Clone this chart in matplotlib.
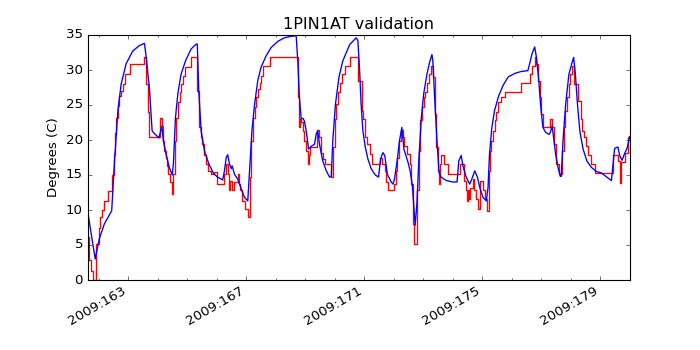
import matplotlib
matplotlib.use("Agg")
import matplotlib.pyplot as plt
from matplotlib.ticker import FixedLocator, MultipleLocator, FuncFormatter

plt.style.use("classic")

# model (blue) - day of year 2009, degrees C
model_days = [
    161.63, 161.88, 162.02, 162.19, 162.44, 162.53, 162.65, 162.76, 162.93, 163.15,
    163.38, 163.55, 163.61, 163.72, 163.81, 163.89, 164.04, 164.14, 164.19, 164.28,
    164.39, 164.49, 164.53, 164.60, 164.68, 164.79, 164.94, 165.13, 165.30, 165.34,
    165.39, 165.47, 165.58, 165.73, 165.89, 166.03, 166.20, 166.26, 166.32, 166.37,
    166.43, 166.49, 166.52, 166.60, 166.71, 166.83, 166.94, 167.05, 167.11, 167.19,
    167.28, 167.39, 167.50, 167.67, 167.84, 168.07, 168.29, 168.50, 168.69, 168.75,
    168.80, 168.86, 168.92, 168.97, 169.03, 169.11, 169.20, 169.31, 169.37, 169.42,
    169.48, 169.59, 169.71, 169.82, 169.88, 169.93, 170.02, 170.14, 170.27, 170.39,
    170.50, 170.72, 170.78, 170.84, 170.89, 170.95, 171.03, 171.12, 171.23, 171.37,
    171.48, 171.55, 171.63, 171.69, 171.78, 171.91, 171.97, 172.02, 172.11, 172.19,
    172.27, 172.34, 172.48, 172.55, 172.62, 172.67, 172.72, 172.78, 172.85, 172.93,
    173.01, 173.12, 173.21, 173.29, 173.32, 173.38, 173.46, 173.53, 173.60, 173.78,
    174.00, 174.14, 174.20, 174.28, 174.34, 174.45, 174.57, 174.64, 174.74, 174.83,
    174.91, 175.02, 175.13, 175.19, 175.24, 175.32, 175.41, 175.55, 175.70, 175.87,
    176.09, 176.32, 176.54, 176.60, 176.68, 176.77, 176.83, 176.91, 176.97, 177.05,
    177.14, 177.26, 177.30, 177.36, 177.41, 177.48, 177.56, 177.64, 177.67, 177.73,
    177.82, 177.93, 178.04, 178.09, 178.15, 178.22, 178.30, 178.41, 178.54, 178.69,
    178.86, 179.03, 179.37, 179.48, 179.59, 179.65, 179.73, 179.82, 179.90, 179.99,
]
model_temps = [
    9.7, 3.0, 5.9, 8.0, 9.9, 16.6, 24.2, 28.0, 30.9, 32.7,
    33.5, 33.8, 31.8, 27.3, 21.3, 20.9, 20.3, 22.0, 19.9, 18.0,
    16.1, 15.0, 16.6, 23.2, 26.6, 29.4, 31.3, 33.0, 33.7, 33.7,
    27.0, 21.3, 18.5, 16.6, 15.2, 14.7, 14.3, 15.6, 17.5, 17.9,
    16.6, 15.9, 16.3, 15.1, 14.4, 13.0, 11.8, 11.3, 15.6, 21.3,
    25.1, 28.5, 30.4, 32.0, 33.2, 34.1, 34.6, 34.8, 34.9, 30.9,
    26.1, 23.0, 23.1, 22.7, 21.3, 18.7, 19.1, 19.4, 20.9, 21.3,
    19.4, 17.0, 15.6, 14.7, 14.8, 19.9, 25.1, 29.0, 31.3, 32.5,
    33.6, 34.6, 34.2, 29.9, 25.1, 21.3, 19.0, 17.3, 15.9, 15.0,
    14.7, 17.3, 18.2, 17.8, 15.1, 14.0, 13.7, 14.4, 17.0, 19.9,
    21.8, 18.7, 16.8, 15.6, 13.7, 10.9, 7.8, 10.9, 17.5, 23.2,
    26.6, 29.4, 31.1, 32.2, 31.3, 26.1, 19.9, 15.4, 14.7, 14.2,
    14.0, 14.0, 17.0, 17.8, 16.3, 14.7, 13.7, 14.4, 15.6, 14.7,
    13.2, 11.8, 11.3, 13.2, 18.0, 21.8, 24.2, 26.3, 27.8, 29.0,
    29.5, 29.8, 29.9, 30.9, 32.3, 33.3, 31.8, 28.5, 25.0, 21.8,
    21.1, 20.8, 21.1, 22.0, 20.4, 18.0, 16.1, 14.8, 14.8, 19.9,
    25.1, 29.4, 31.1, 31.8, 29.4, 25.1, 21.3, 18.7, 17.0, 16.1,
    15.5, 15.3, 14.2, 18.8, 19.0, 17.8, 17.1, 18.1, 18.8, 20.5,
]

# telemetry (red), stepped
tlm_days = [
    161.62, 161.68, 161.74, 161.80, 161.91, 162.02, 162.06, 162.11, 162.19, 162.33,
    162.46, 162.51, 162.55, 162.59, 162.65, 162.70, 162.76, 162.81, 162.89, 163.06,
    163.55, 163.61, 163.67, 163.72, 164.08, 164.14, 164.17, 164.22, 164.28, 164.30,
    164.36, 164.42, 164.48, 164.53, 164.57, 164.62, 164.68, 164.74, 164.79, 164.85,
    164.94, 165.13, 165.34, 165.39, 165.45, 165.51, 165.56, 165.62, 165.70, 165.81,
    165.92, 166.01, 166.26, 166.32, 166.37, 166.43, 166.46, 166.51, 166.57, 166.71,
    166.75, 166.80, 166.85, 166.94, 167.05, 167.11, 167.17, 167.22, 167.28, 167.33,
    167.39, 167.45, 167.50, 167.56, 167.82, 168.75, 168.78, 168.83, 168.87, 168.92,
    168.97, 169.03, 169.09, 169.12, 169.16, 169.21, 169.39, 169.48, 169.54, 169.59,
    169.67, 169.88, 169.93, 169.99, 170.05, 170.10, 170.18, 170.25, 170.33, 170.50,
    170.80, 170.84, 170.92, 170.97, 171.03, 171.10, 171.18, 171.26, 171.52, 171.59,
    171.69, 171.74, 171.80, 172.02, 172.06, 172.11, 172.17, 172.23, 172.31, 172.36,
    172.44, 172.53, 172.59, 172.64, 172.68, 172.76, 172.80, 172.84, 172.89, 172.96,
    173.01, 173.06, 173.12, 173.18, 173.27, 173.32, 173.38, 173.44, 173.49, 173.53,
    173.55, 173.61, 173.70, 173.85, 174.23, 174.36, 174.43, 174.48, 174.51, 174.54,
    174.59, 174.68, 174.71, 174.77, 174.85, 174.91, 175.02, 175.10, 175.17, 175.21,
    175.26, 175.30, 175.36, 175.41, 175.47, 175.53, 175.62, 175.75, 176.32, 176.60,
    176.68, 176.77, 176.83, 176.88, 176.94, 177.00, 177.05, 177.30, 177.36, 177.41,
    177.50, 177.59, 177.71, 177.75, 177.80, 177.87, 177.93, 177.98, 178.02, 178.10,
    178.24, 178.35, 178.39, 178.44, 178.50, 178.58, 178.69, 178.80, 179.42, 179.58,
    179.65, 179.71, 179.82, 179.93, 180.00,
]
tlm_temps = [
    6.1, 2.8, 1.3, 0.0, 5.1, 7.5, 9.0, 10.0, 11.3, 12.7,
    15.0, 18.0, 21.0, 23.2, 24.9, 26.3, 27.0, 28.0, 29.4, 30.9,
    31.8, 28.0, 24.0, 20.5, 23.1, 22.0, 19.9, 18.5, 17.5, 16.3,
    15.1, 14.0, 12.3, 15.1, 19.9, 23.2, 25.4, 26.8, 28.0, 29.2,
    30.4, 31.8, 27.0, 21.8, 20.4, 19.4, 17.8, 16.6, 15.6, 15.1,
    15.4, 13.7, 15.1, 16.6, 15.1, 12.8, 14.2, 12.8, 14.0, 15.1,
    13.7, 12.8, 11.3, 10.1, 9.0, 14.7, 19.9, 23.2, 24.7, 26.1,
    27.3, 28.2, 29.2, 30.6, 31.8, 26.1, 21.8, 23.0, 22.6, 21.3,
    19.9, 18.5, 16.6, 17.8, 19.0, 19.0, 21.5, 20.4, 18.2, 17.3,
    16.6, 14.7, 19.0, 23.0, 25.1, 26.8, 28.2, 29.4, 30.6, 31.8,
    28.5, 28.5, 24.2, 23.0, 20.4, 19.4, 18.0, 16.6, 17.5, 16.6,
    15.6, 14.0, 12.8, 13.7, 15.6, 17.5, 19.9, 21.5, 20.4, 19.2,
    18.0, 16.6, 13.7, 8.0, 5.1, 5.1, 12.8, 18.5, 22.8, 24.7,
    26.1, 26.8, 28.2, 29.4, 30.6, 29.0, 23.7, 19.0, 15.6, 13.7,
    16.6, 17.8, 16.6, 15.1, 16.6, 14.2, 12.8, 11.3, 12.8, 11.6,
    13.2, 14.4, 12.8, 11.6, 10.1, 14.2, 12.8, 11.6, 9.9, 15.6,
    18.5, 19.9, 21.3, 22.8, 24.0, 25.4, 26.1, 26.8, 28.2, 29.4,
    30.6, 31.8, 30.9, 28.5, 26.1, 23.7, 21.8, 23.0, 21.8, 19.4,
    16.6, 15.1, 18.5, 21.8, 24.2, 26.1, 28.0, 29.4, 30.6, 28.0,
    25.6, 23.0, 21.3, 20.4, 19.2, 17.8, 16.6, 15.3, 17.9, 17.0,
    13.8, 16.9, 18.1, 20.5, 20.5,
]

tick_days = [163, 167, 171, 175, 179]

fig = plt.figure(figsize=(8.75, 4.375), dpi=80, facecolor="white")
ax = fig.add_subplot(111)
ax.plot(tlm_days, tlm_temps, "r", drawstyle="steps-post", lw=1.2)
ax.plot(model_days, model_temps, "b", lw=1.2)
ax.set_xlim(161.62, 180.0)
ax.set_ylim(0, 35)
ax.xaxis.set_major_locator(FixedLocator(tick_days))
ax.xaxis.set_minor_locator(MultipleLocator(1))
ax.xaxis.set_major_formatter(FuncFormatter(lambda d, pos: "2009:%03d" % round(d)))
ax.set_title("1PIN1AT validation")
ax.set_ylabel("Degrees (C)")
fig.autofmt_xdate()
fig.savefig("out.png", dpi=80, facecolor="white")
